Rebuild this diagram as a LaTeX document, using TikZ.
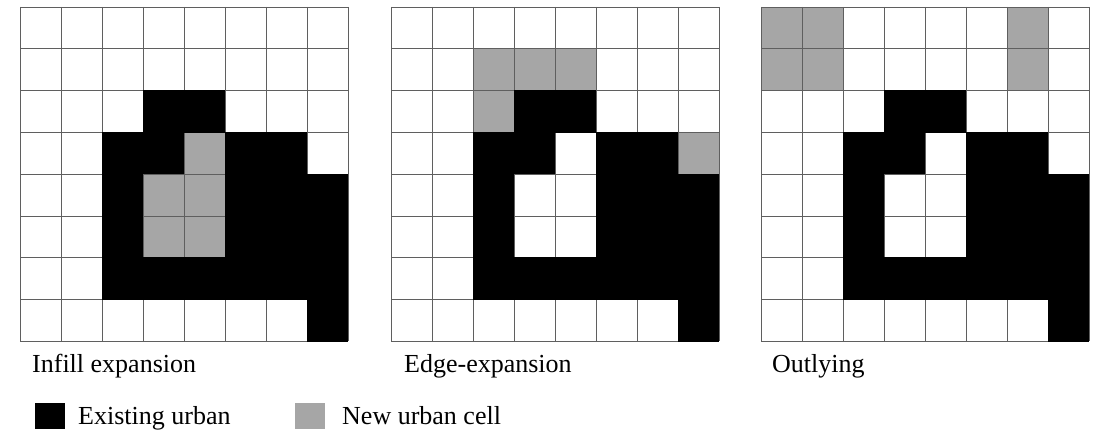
\documentclass[tikz,border=0pt]{standalone}
\usepackage{fontspec}
\setmainfont{Liberation Serif}
\definecolor{newcell}{RGB}{166,166,166}
\definecolor{gridline}{RGB}{95,95,95}
\tikzset{
  urbancell/.style={fill=black},
  newurban/.style={fill=newcell},
  gridstyle/.style={draw=gridline, line width=0.9pt},
  caption/.style={anchor=base west, inner sep=0pt, font=\fontsize{26}{30}\selectfont},
  legendbox/.style={draw=none, minimum width=30pt, minimum height=26pt, inner sep=0pt, anchor=north west},
}
\begin{document}
\begin{tikzpicture}[x=1pt,y=-1pt]
\useasboundingbox (0,0) rectangle (1101,435);
\def\cw{41}
\def\ch{41.8}
% new urban cells
\foreach \c/\r in {4/3,3/4,4/4,3/5,4/5}
  \fill[newurban] (20+\c*\cw, 7+\r*\ch) rectangle ++(\cw,\ch);
\foreach \c/\r in {2/1,3/1,4/1,2/2,7/3}
  \fill[newurban] (391+\c*\cw, 7+\r*\ch) rectangle ++(\cw,\ch);
\foreach \c/\r in {0/0,1/0,0/1,1/1,6/0,6/1}
  \fill[newurban] (761+\c*\cw, 7+\r*\ch) rectangle ++(\cw,\ch);
% grid lines
\foreach \gx in {20,391,761} {
  \foreach \i in {0,...,8} {
    \draw[gridstyle] (\gx+\i*\cw, 7) -- ++(0, 8*\ch);
    \draw[gridstyle] (\gx, 7+\i*\ch) -- ++(8*\cw, 0);
  }
}
% existing urban cells (common to all three grids), drawn over the grid
\foreach \gx in {20,391,761} {
  \foreach \c/\r in {3/2,4/2,2/3,3/3,5/3,6/3,2/4,5/4,6/4,7/4,2/5,5/5,6/5,7/5,2/6,3/6,4/6,5/6,6/6,7/6,7/7}
    \fill[urbancell] (\gx+\c*\cw-0.3, 7+\r*\ch-0.3) rectangle ++(\cw+0.6,\ch+0.6);
}
% captions
\node[caption] (capa) at (32,373) {Infill expansion};
\node[caption] (capb) at (404,373) {Edge-expansion};
\node[caption] (capc) at (772,373) {Outlying};
% legend
\node[legendbox, fill=black] (keya) at (35,403) {};
\node[caption] (keyatext) at (78,425) {Existing urban};
\node[legendbox, fill=newcell] (keyb) at (295,403) {};
\node[caption] (keybtext) at (342,425) {New urban cell};
\end{tikzpicture}
\end{document}
